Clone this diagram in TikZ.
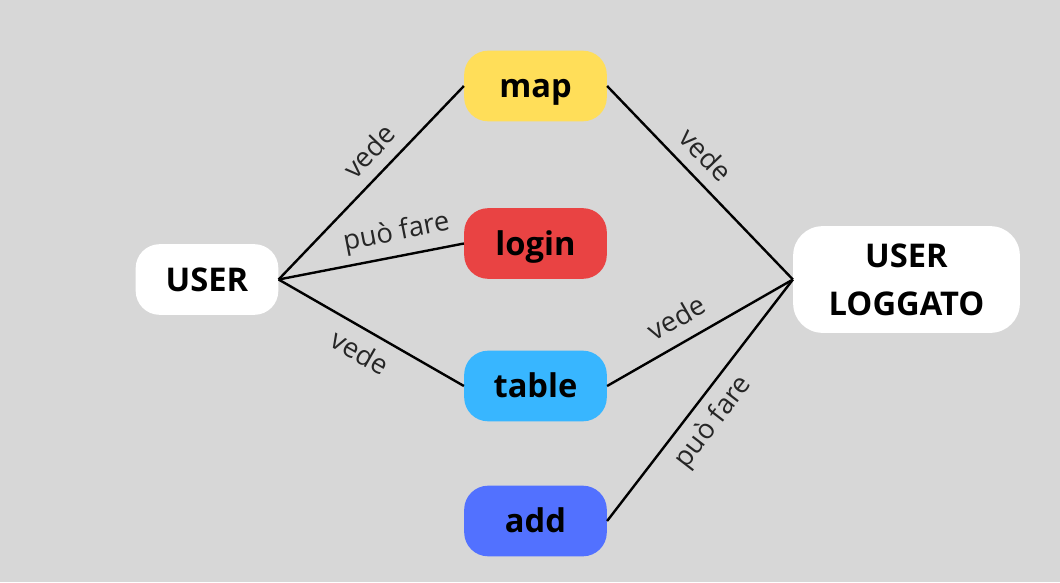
\documentclass[tikz,border=0pt]{standalone}
\usepackage{fontspec}
\setmainfont{Open Sans}
\definecolor{bg}{HTML}{D7D7D7}
\definecolor{cyellow}{HTML}{FFDE59}
\definecolor{cred}{HTML}{E94343}
\definecolor{ccyan}{HTML}{38B6FF}
\definecolor{cblue}{HTML}{5271FF}
\tikzset{
  box/.style={rounded corners=18pt, inner sep=0pt, minimum width=107pt, minimum height=53pt,
    font=\bfseries\fontsize{24.5}{36}\selectfont, text=black, align=center},
  onebox/.style={box, text height=17.5pt, text depth=0pt},
  conn/.style={line width=1.8pt, black},
  lbl/.style={font=\fontsize{20.5}{24}\selectfont, text=black!85, sloped, inner sep=3pt}
}
\begin{document}
\begin{tikzpicture}[x=0.75pt,y=-0.75pt]
\fill[bg] (0,0) rectangle (1060,582);
\useasboundingbox (0,0) rectangle (1060,582);
\node[onebox, fill=white] (user) at (207,279.5) {USER};
\node[onebox, fill=cyellow] (map) at (535.5,86) {map};
\node[onebox, fill=cred] (login) at (535.5,243.5) {login};
\node[onebox, fill=ccyan] (table) at (535.5,386) {table};
\node[onebox, fill=cblue] (add) at (535.5,521) {add};
\node[box, fill=white, rounded corners=22pt, minimum width=170pt, minimum height=80pt] (logg) at (906.5,279.5) {USER\\LOGGATO};
\draw[conn] (user.east) -- node[lbl, pos=0.58, above=6pt] {vede} (map.west);
\draw[conn] (user.east) -- node[lbl, pos=0.66, above=3pt] {può fare} (login.west);
\draw[conn] (user.east) -- node[lbl, pos=0.5, below=5pt] {vede} (table.west);
\draw[conn] (map.east) -- node[lbl, pos=0.44, above=6pt] {vede} (logg.west);
\draw[conn] (table.east) -- node[lbl, pos=0.44, above=7pt] {vede} (logg.west);
\draw[conn] (add.east) -- node[lbl, pos=0.47, below=4pt] {può fare} (logg.west);
\end{tikzpicture}
\end{document}
